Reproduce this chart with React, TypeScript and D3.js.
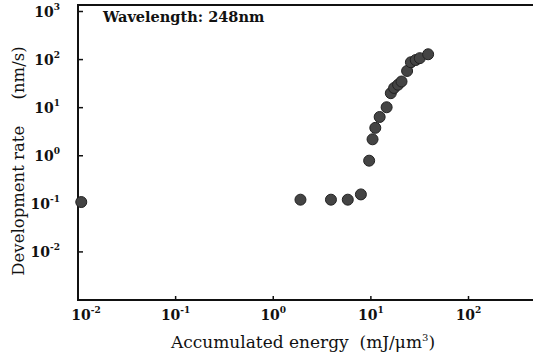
import React from "react";
import * as d3 from "d3";

// accumulated energy (mJ/um^3) and development rate (nm/s)
const energy = [0.0108, 1.9, 3.9, 5.8, 7.9, 9.6, 10.4, 11.1, 12.3, 14.5, 16.0, 17.3, 19.0, 20.6, 23.5, 25.7, 28.8, 31.7, 38.6];
const rate = [0.109, 0.122, 0.122, 0.122, 0.157, 0.79, 2.2, 3.8, 6.4, 10.2, 20, 25.7, 30, 35, 58, 88, 98, 107, 129];
const xTickExp = [-2, -1, 0, 1, 2];
const yTickExp = [3, 2, 1, 0, -1, -2];

const W = 533;
const H = 352;
const serif = "'DejaVu Serif', 'Liberation Serif', serif";

const App = () => {
    const x = d3.scaleLog().domain([1e-2, 1e2]).range([78, 468.5]);
    const y = d3.scaleLog().domain([1e-3, 1e3]).range([300, 11.5]);
    const left = x(1e-2);
    const bottom = y(1e-3);
    const top = 5;

    const sup = (e: number) => (e < 0 ? "-" + Math.abs(e) : String(e));

    return (
        <svg
            width={W}
            height={H}
            style={{ position: "absolute", left: 0, top: 0, background: "#fff" }}
        >
            {/* frame: left, top, bottom */}
            <path
                d={`M${W},${top}H${left}V${bottom}H${W}`}
                fill="none"
                stroke="#111"
                strokeWidth={2}
            />

            {yTickExp.map((e) => (
                <g key={"y" + e}>
                    <line x1={left} x2={left + 5} y1={y(10 ** e)} y2={y(10 ** e)} stroke="#111" strokeWidth={1.5} />
                    <text
                        x={60}
                        y={y(10 ** e) + 5}
                        textAnchor="end"
                        fontFamily={serif}
                        fontWeight="bold"
                        fontSize={14}
                        fill="#111"
                    >
                        10
                        <tspan fontSize={9} dy={-7}>{sup(e)}</tspan>
                    </text>
                </g>
            ))}

            {xTickExp.map((e, i) => (
                <g key={"x" + e}>
                    <line x1={x(10 ** e)} x2={x(10 ** e)} y1={bottom} y2={bottom - 4} stroke="#111" strokeWidth={1.5} />
                    <text
                        x={x(10 ** e) + (i === 0 ? 8 : 0)}
                        y={320}
                        textAnchor="middle"
                        fontFamily={serif}
                        fontWeight="bold"
                        fontSize={14}
                        fill="#111"
                    >
                        10
                        <tspan fontSize={9} dy={-7}>{sup(e)}</tspan>
                    </text>
                </g>
            ))}

            <text x={103} y={22} fontFamily={serif} fontWeight="bold" fontSize={14.5} fill="#111">
                Wavelength: 248nm
            </text>

            <text x={303} y={348} textAnchor="middle" fontFamily={serif} fontSize={17} fill="#111">
                Accumulated energy{"\u00a0\u00a0"}(mJ/μm
                <tspan fontSize={10} dy={-7}>3</tspan>
                <tspan dy={7}>)</tspan>
            </text>

            <text
                transform={`translate(24,161) rotate(-90)`}
                textAnchor="middle"
                fontFamily={serif}
                fontSize={16.5}
                fill="#111"
            >
                Development rate{"\u00a0\u00a0\u00a0\u00a0\u00a0"}(nm/s)
            </text>

            {energy.map((v, i) => (
                <circle
                    key={i}
                    cx={x(v)}
                    cy={y(rate[i])}
                    r={5.5}
                    fill="#444"
                    stroke="#222"
                    strokeWidth={1}
                />
            ))}
        </svg>
    );
};

export default App;
